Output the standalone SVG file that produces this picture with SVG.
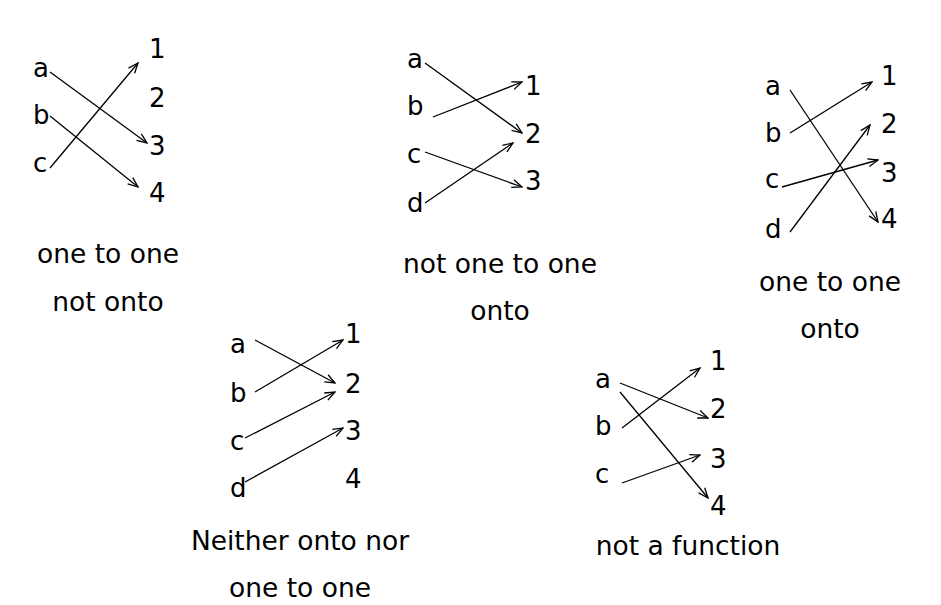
<svg xmlns="http://www.w3.org/2000/svg" width="941" height="605" viewBox="0 0 941 605">
<style>
text{font-family:"DejaVu Sans","Liberation Sans",sans-serif;fill:#000}
.n{font-size:26px}
.lab{font-size:26.5px;text-anchor:middle}
.e{stroke:#000;stroke-width:1.3;fill:none;marker-end:url(#ah)}
</style>
<defs>
<marker id="ah" viewBox="0 0 12 10" refX="11" refY="5" markerWidth="12" markerHeight="10" markerUnits="userSpaceOnUse" orient="auto">
<path d="M1,1 L11,5 L1,9" stroke="#000" stroke-width="1.3" fill="none"/>
</marker>
</defs>
<rect width="941" height="605" fill="#fff"/>
<g id="d1">
<text class="n" x="33" y="77">a</text><text class="n" x="33" y="124">b</text><text class="n" x="33" y="172">c</text>
<text class="n" x="149" y="58">1</text><text class="n" x="149" y="107">2</text><text class="n" x="149" y="155">3</text><text class="n" x="149" y="202">4</text>
<text class="lab" x="108" y="263">one to one</text><text class="lab" x="108" y="311">not onto</text>
</g>
<g id="d2">
<text class="n" x="407" y="68">a</text><text class="n" x="407" y="115">b</text><text class="n" x="407" y="163">c</text><text class="n" x="407" y="212">d</text>
<text class="n" x="525" y="95">1</text><text class="n" x="525" y="143">2</text><text class="n" x="525" y="190">3</text>
<text class="lab" x="500" y="273">not one to one</text><text class="lab" x="500" y="320">onto</text>
</g>
<g id="d3">
<text class="n" x="765" y="95">a</text><text class="n" x="765" y="142">b</text><text class="n" x="765" y="188">c</text><text class="n" x="765" y="238">d</text>
<text class="n" x="881" y="85">1</text><text class="n" x="881" y="133">2</text><text class="n" x="881" y="182">3</text><text class="n" x="881" y="228">4</text>
<text class="lab" x="830" y="291">one to one</text><text class="lab" x="830" y="338">onto</text>
</g>
<g id="d4">
<text class="n" x="230" y="353">a</text><text class="n" x="230" y="402">b</text><text class="n" x="230" y="450">c</text><text class="n" x="230" y="497">d</text>
<text class="n" x="345" y="343">1</text><text class="n" x="345" y="393">2</text><text class="n" x="345" y="440">3</text><text class="n" x="345" y="488">4</text>
<text class="lab" x="300" y="550">Neither onto nor</text><text class="lab" x="300" y="597">one to one</text>
</g>
<g id="d5">
<text class="n" x="595" y="388">a</text><text class="n" x="595" y="435">b</text><text class="n" x="595" y="483">c</text>
<text class="n" x="710" y="370">1</text><text class="n" x="710" y="418">2</text><text class="n" x="710" y="468">3</text><text class="n" x="710" y="515">4</text>
<text class="lab" x="688" y="555">not a function</text>
</g>
<g id="connectors">
<line class="e" x1="50" y1="72" x2="147" y2="143"/>
<line class="e" x1="50" y1="116" x2="138" y2="187"/>
<line class="e" x1="50" y1="168" x2="138" y2="63"/>
<line class="e" x1="425" y1="63" x2="522" y2="133"/>
<line class="e" x1="433" y1="117" x2="522" y2="82"/>
<line class="e" x1="425" y1="152" x2="522" y2="187"/>
<line class="e" x1="425" y1="203" x2="513" y2="143"/>
<line class="e" x1="790" y1="90" x2="878" y2="222"/>
<line class="e" x1="790" y1="133" x2="872" y2="82"/>
<line class="e" x1="782" y1="187" x2="878" y2="160"/>
<line class="e" x1="790" y1="232" x2="870" y2="125"/>
<line class="e" x1="255" y1="340" x2="335" y2="383"/>
<line class="e" x1="255" y1="392" x2="343" y2="340"/>
<line class="e" x1="245" y1="438" x2="335" y2="392"/>
<line class="e" x1="245" y1="482" x2="343" y2="428"/>
<line class="e" x1="620" y1="383" x2="708" y2="418"/>
<line class="e" x1="620" y1="392" x2="708" y2="498"/>
<line class="e" x1="622" y1="428" x2="700" y2="368"/>
<line class="e" x1="622" y1="483" x2="700" y2="455"/>
</g>
</svg>
